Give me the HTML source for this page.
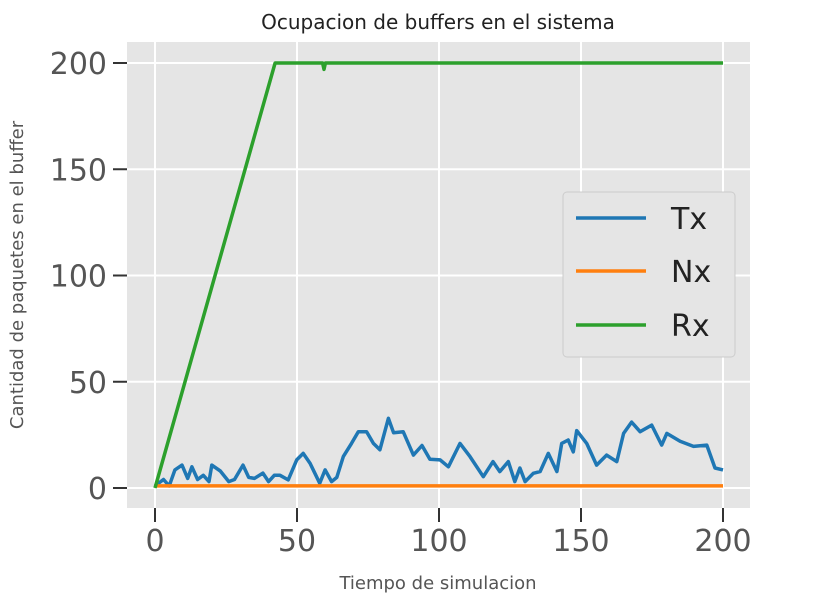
<!DOCTYPE html>
<html><head><meta charset="utf-8"><style>
body{margin:0;background:#fff;width:837px;height:604px;overflow:hidden;font-family:"Liberation Sans","DejaVu Sans",sans-serif}
</style></head><body>
<svg id="chart" width="837" height="604" xmlns="http://www.w3.org/2000/svg" font-family="DejaVu Sans, Liberation Sans, sans-serif">
<script>
const xTicks=[0,50,100,150,200];
const yTicks=[0,50,100,150,200];
const txX=[0,3,5,7,9.5,11.5,13,15,17,19,20,23,26,28,31,33,35,38,40,42,44,46.9,49.9,52.2,54.6,56.3,58,59.9,62.2,64,66.3,69.2,71.6,74.5,76.9,79.2,82.2,84,87.4,91,94,96.8,100.4,103.3,107.4,110.9,115.6,119,121.4,124.4,126.7,128.5,130.3,133.2,135.6,138.5,141.5,143.2,145.5,147.3,148.5,152,155.5,159,162.6,165,167.8,170.8,174.9,178.4,180.2,184.9,189.6,194.3,197.2,200];
const txY=[1,4,1,8.5,10.8,4.5,10,4,6,3,10.8,8,3,4,10.8,5,4.5,7,3,6,6,3.8,13.2,16.3,11.6,6.9,2.2,8.5,3,5,14.8,21,26.5,26.5,21,18,32.8,26,26.5,15.5,20,13.5,13.2,10,21,14.8,5.3,12.4,7.7,12.4,3,9.4,3,6.9,7.7,16.3,7.7,21,22.6,17,27,21,10.8,15.5,12.4,25.7,31,26.5,29.6,20.2,25.7,22,19.6,20.2,9.4,8.5];
const nxX=[0,200];
const nxY=[1,1];
const rxX=[0,42.3,59,59.5,60,200];
const rxY=[0,200,200,197,200,200];
</script>
<g id="g"></g>
<script>
const NS="http://www.w3.org/2000/svg";
const L=127,R=750,T=42,B=508;
const sx=v=>155+v*(723-155)/200;
const sy=v=>488-v*(488-63)/200;
const g=document.getElementById('g');
function mk(t,a,p){const e=document.createElementNS(NS,t);for(const k in a)e.setAttribute(k,a[k]);(p||g).appendChild(e);return e;}
const bg=mk('rect',{x:L,y:T,width:R-L,height:B-T,fill:'#e5e5e5'});


xTicks.forEach(t=>{
 const gl=mk('line',{x1:sx(t),x2:sx(t),y1:T,y2:B,stroke:'#fff','stroke-width':2});
 
 
 const tk=mk('line',{x1:sx(t),x2:sx(t),y1:B,y2:B+14,stroke:'#333','stroke-width':2});
 
 
 const tx=mk('text',{x:sx(t),y:B+43,'text-anchor':'middle','font-size':30,fill:'#555'});
 tx.textContent=t;
 
 
});
yTicks.forEach(t=>{
 const gl=mk('line',{x1:L,x2:R,y1:sy(t),y2:sy(t),stroke:'#fff','stroke-width':2});
 
 
 const tk=mk('line',{x1:L-14,x2:L,y1:sy(t),y2:sy(t),stroke:'#333','stroke-width':2});
 
 
 const tx=mk('text',{x:L-20,y:sy(t)+11,'text-anchor':'end','font-size':30,fill:'#555'});
 tx.textContent=t;
 
 
});
function line(xs,ys,c,name){
 const d=xs.map((x,i)=>(i?'L':'M')+sx(x).toFixed(1)+','+sy(ys[i]).toFixed(1)).join('');
 const p=mk('path',{d:d,fill:'none',stroke:c,'stroke-width':3.5,'stroke-linejoin':'round'});
 
 
}
line(txX,txY,'#1f77b4','tx-line');
line(nxX,nxY,'#ff7f0e','nx-line');
line(rxX,rxY,'#2ca02c','rx-line');
const lg=mk('g',{});


mk('rect',{x:563,y:192,width:172,height:165,rx:4,fill:'#e5e5e5',stroke:'#ccc','stroke-width':1},lg);
[['Tx','#1f77b4',218],['Nx','#ff7f0e',271],['Rx','#2ca02c',325]].forEach(e=>{
 const eg=mk('g',{},lg);
 
 
 mk('line',{x1:576,x2:646,y1:e[2],y2:e[2],stroke:e[1],'stroke-width':3.5},eg);
 const t=mk('text',{x:671,y:e[2]+11,'font-size':30,fill:'#222'},eg);
 t.textContent=e[0];
});
</script>
<text x="438" y="29" text-anchor="middle" font-size="20" fill="#222">Ocupacion de buffers en el sistema</text>
<text x="438" y="589" text-anchor="middle" font-size="18" fill="#555">Tiempo de simulacion</text>
<text transform="translate(23,275) rotate(-90)" text-anchor="middle" font-size="18" fill="#555">Cantidad de paquetes en el buffer</text>
</svg>
</body></html>
